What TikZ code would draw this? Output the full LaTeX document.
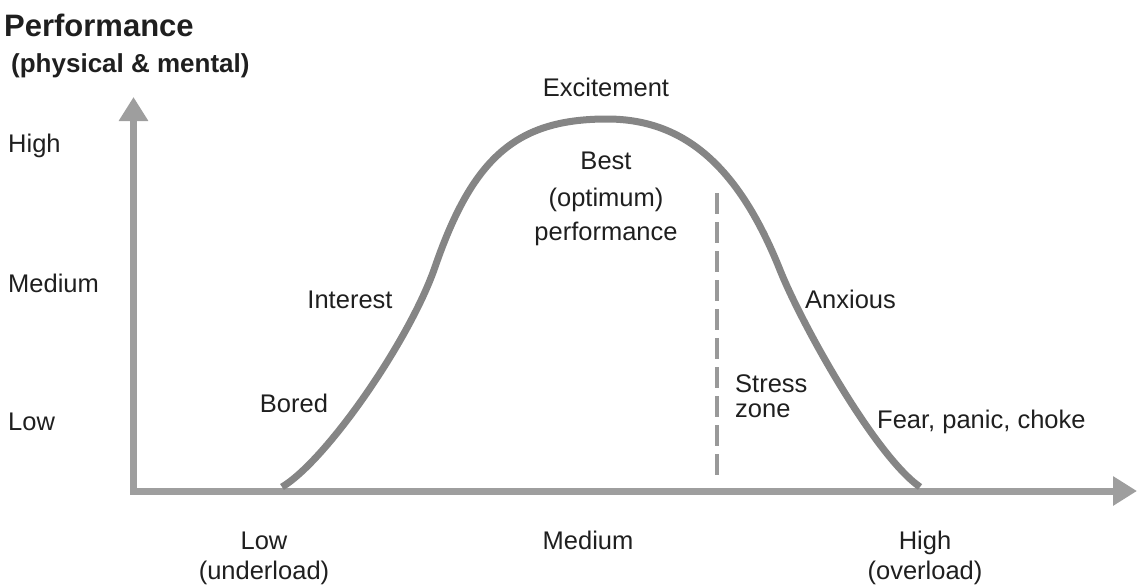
\documentclass[tikz,border=0pt]{standalone}
\usepackage{fontspec}
\setmainfont{Liberation Sans}
\usetikzlibrary{arrows.meta}
\definecolor{axisgray}{gray}{0.62}
\definecolor{curvegray}{gray}{0.52}
\definecolor{dashgray}{gray}{0.60}
\definecolor{txt}{gray}{0.12}
\begin{document}
\begin{tikzpicture}[x=1pt,y=-1pt,
  lbl/.style={font=\fontsize{25.5}{27}\selectfont, text=txt, inner sep=0pt},
  ttl/.style={font=\fontsize{31}{33}\selectfont\bfseries, text=txt, inner sep=0pt},
  subttl/.style={font=\fontsize{26}{28}\selectfont\bfseries, text=txt, inner sep=0pt},
  axisline/.style={draw=axisgray, line width=7pt, line join=miter,
    {Triangle[length=24pt,width=28pt]}-{Triangle[length=24pt,width=28pt]}},
  curveline/.style={draw=curvegray, line width=7pt},
  stressline/.style={draw=dashgray, line width=4pt, dash pattern=on 21pt off 8pt}]
\useasboundingbox (0,0) rectangle (1138,586);
% axes
\coordinate (ytip) at (133.5,97);
\coordinate (corner) at (133.5,491);
\coordinate (xtip) at (1137,491);
\draw[axisline] (ytip) -- (corner) -- (xtip);
% curve
\coordinate (cstart) at (282,487);
\coordinate (linf) at (435,267);
\coordinate (peak) at (607,119);
\coordinate (rinf) at (780,270);
\coordinate (cend) at (920,487);
\draw[curveline] (cstart) .. controls (327,460) and (410,339.5) .. (linf)
  .. controls (473,156.8) and (517,119) .. (peak)
  .. controls (687,119) and (740,170) .. (rinf)
  .. controls (802,325) and (875,455.5) .. (cend);
% stress zone line
\coordinate (stop) at (717,193);
\coordinate (sbot) at (717,481);
\draw[stressline] (stop) -- (sbot);
% titles
\node[ttl, anchor=base west] (perf) at (4,37) {Performance};
\node[subttl, anchor=base west] (phys) at (11,73) {(physical \& mental)};
% y labels
\node[lbl, anchor=base west] (yhigh) at (8,152) {High};
\node[lbl, anchor=base west] (ymed) at (8,292) {Medium};
\node[lbl, anchor=base west] (ylow) at (8,430) {Low};
% x labels
\node[lbl, anchor=base] (xlow) at (264,549) {Low};
\node[lbl, anchor=base] (xlow2) at (264,579) {(underload)};
\node[lbl, anchor=base] (xmed) at (588,549) {Medium};
\node[lbl, anchor=base] (xhigh) at (925,549) {High};
\node[lbl, anchor=base] (xhigh2) at (925,579) {(overload)};
% curve labels
\node[lbl, anchor=base] (exc) at (606,96) {Excitement};
\node[lbl, anchor=base] (best) at (606,169) {Best};
\node[lbl, anchor=base] (opt) at (606,206) {(optimum)};
\node[lbl, anchor=base] (perf2) at (606,240) {performance};
\node[lbl, anchor=base] (interest) at (350,308) {Interest};
\node[lbl, anchor=base] (bored) at (294,412) {Bored};
\node[lbl, anchor=base west] (anx) at (805,308) {Anxious};
\node[lbl, anchor=base west] (stress) at (735,392) {Stress};
\node[lbl, anchor=base west] (zone) at (735,417) {zone};
\node[lbl, anchor=base west] (fear) at (877,428) {Fear, panic, choke};
\end{tikzpicture}
\end{document}
